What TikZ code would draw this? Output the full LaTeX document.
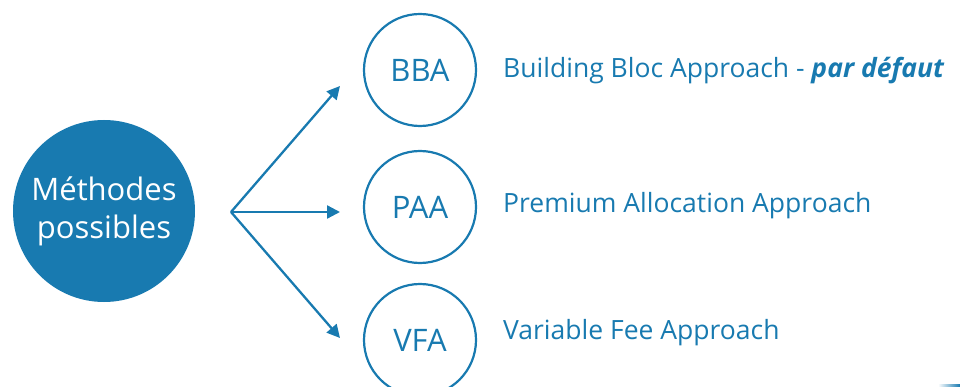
\documentclass[tikz,border=0pt]{standalone}
\usepackage{fontspec}
\setmainfont{Open Sans}
\usetikzlibrary{arrows.meta}
\definecolor{mblue}{RGB}{24,122,176}
\begin{document}
\begin{tikzpicture}[x=1pt,y=-1pt,
  main/.style={circle,fill=mblue,minimum size=182pt,inner sep=0pt,text=white,font=\fontsize{31}{38}\selectfont,align=center},
  meth/.style={circle,draw=mblue,line width=2.2pt,minimum size=112pt,inner sep=0pt,text=mblue,font=\fontsize{31}{36}\selectfont},
  lbl/.style={anchor=west,text=mblue,font=\fontsize{26.5}{30}\selectfont,inner sep=0pt},
  arr/.style={draw=mblue,line width=2.3pt,-{Triangle[length=13pt,width=13pt]}}]
\useasboundingbox (0,0) rectangle (960,387);
\node[main] (m) at (104,211) {Méthodes\\possibles};
\node[meth] (bba) at (420,70) {BBA};
\node[meth] (paa) at (420,207) {PAA};
\node[meth] (vfa) at (420,340) {VFA};
\coordinate (o) at (231,212);
\coordinate (t1) at (340,86);
\coordinate (t2) at (340,212);
\coordinate (t3) at (340,338);
\draw[arr] (o) -- (t1);
\draw[arr] (o) -- (t2);
\draw[arr] (o) -- (t3);
\node[lbl] (l1) at (503,70.5) {Building Bloc Approach - \textbf{\textit{par défaut}}};
\node[lbl] (l2) at (503,205.5) {Premium Allocation Approach};
\node[lbl] (l3) at (503,332.5) {Variable Fee Approach};
\fill[left color=white,right color=mblue] (938,384.5) rectangle (960,387);
\end{tikzpicture}
\end{document}
